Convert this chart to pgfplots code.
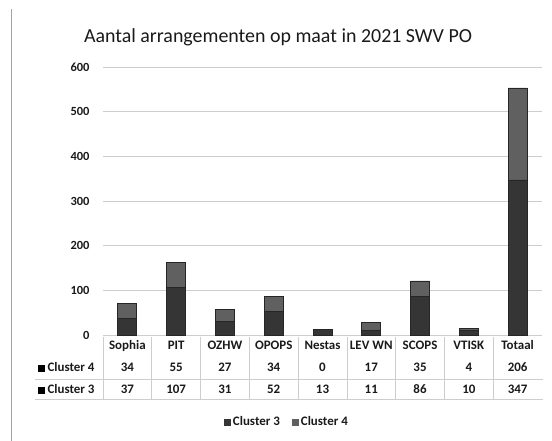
\documentclass[border=0pt]{standalone}
\usepackage{pgfplots}
\pgfplotsset{compat=1.18}
\usepackage{pgfplotstable}
\usepackage{fontspec}
\setmainfont{Carlito}
\definecolor{cthree}{HTML}{353535}
\definecolor{cfour}{HTML}{606060}
\definecolor{gridc}{HTML}{CDCDCD}
\definecolor{txt}{HTML}{1A1A1A}
\pgfplotstableread{
x c3 c4
0 37 34
1 107 55
2 31 27
3 52 34
4 13 0
5 11 17
6 86 35
7 10 4
8 347 206
}\datatable
\newcommand{\tbfont}{\fontsize{13}{14}\selectfont\bfseries}
\begin{document}
\begin{tikzpicture}[x=1bp,y=1bp]
\path[use as bounding box,fill=white] (0,0) rectangle (552,441);
\draw[gridc!80!black,line width=0.6bp] (11,0) -- (11,432);
\node[font=\fontsize{20}{22}\selectfont,text=txt] at (278,404) {Aantal arrangementen op maat in 2021 SWV PO};
\begin{axis}[
  at={(103bp,106bp)}, anchor=south west,
  scale only axis, width=439bp, height=268bp,
  ybar stacked, bar width=19bp,
  xmin=-0.5, xmax=8.5, ymin=0, ymax=600,
  ytick={0,100,...,600},
  xtick={0,...,8},
  xticklabels={Sophia,PIT,OZHW,OPOPS,Nestas,LEV WN,SCOPS,VTISK,Totaal},
  xticklabel style={anchor=base, yshift=-14.5bp, font=\tbfont, text=txt},
  yticklabel style={anchor=east, xshift=-10bp, font=\fontsize{12.5}{13}\selectfont\bfseries, text=txt, /pgf/number format/assume math mode=true},
  major tick length=0pt,
  axis line style={draw=none},
  ymajorgrids, grid style={gridc, line width=0.6bp},
  legend style={at={(0.419,-0.325)}, anchor=center, draw=none, fill=none,
    font=\tbfont, text=txt, legend columns=2,
    /tikz/every even column/.append style={column sep=10bp}},
  legend image code/.code={\fill[#1,draw=none] (0bp,-3.5bp) rectangle (7bp,3.5bp);},
  clip=false,
]
\addplot[fill=cthree, draw=black!85, line width=0.8bp] table[x=x,y=c3] {\datatable};
\addlegendentry{Cluster 3}
\addplot[fill=cfour, draw=black!85, line width=0.8bp] table[x=x,y=c4] {\datatable};
\addlegendentry{Cluster 4}
\pgfplotsinvokeforeach{0,...,8}{
  \node[font=\tbfont, text=txt, anchor=base] at ([yshift=-37bp]axis cs:#1,0) {\pgfplotstablegetelem{#1}{c4}\of\datatable\pgfplotsretval};
  \node[font=\tbfont, text=txt, anchor=base] at ([yshift=-59bp]axis cs:#1,0) {\pgfplotstablegetelem{#1}{c3}\of\datatable\pgfplotsretval};
  \draw[gridc, line width=0.6bp] ([xshift=-24.4bp,yshift=-2bp]axis cs:#1,0) -- ([xshift=-24.4bp,yshift=-64bp]axis cs:#1,0);
}
\node[font=\tbfont, text=txt, anchor=base east] at ([xshift=-5bp,yshift=-37bp]axis cs:-0.5,0) {\textcolor{black}{\rule{7bp}{7bp}}\,Cluster 4};
\node[font=\tbfont, text=txt, anchor=base east] at ([xshift=-5bp,yshift=-59bp]axis cs:-0.5,0) {\textcolor{black}{\rule{7bp}{7bp}}\,Cluster 3};
\end{axis}
\draw[gridc, line width=0.6bp] (35,62) -- (543,62);
\draw[gridc, line width=0.6bp] (35,42) -- (543,42);
\end{tikzpicture}
\end{document}
